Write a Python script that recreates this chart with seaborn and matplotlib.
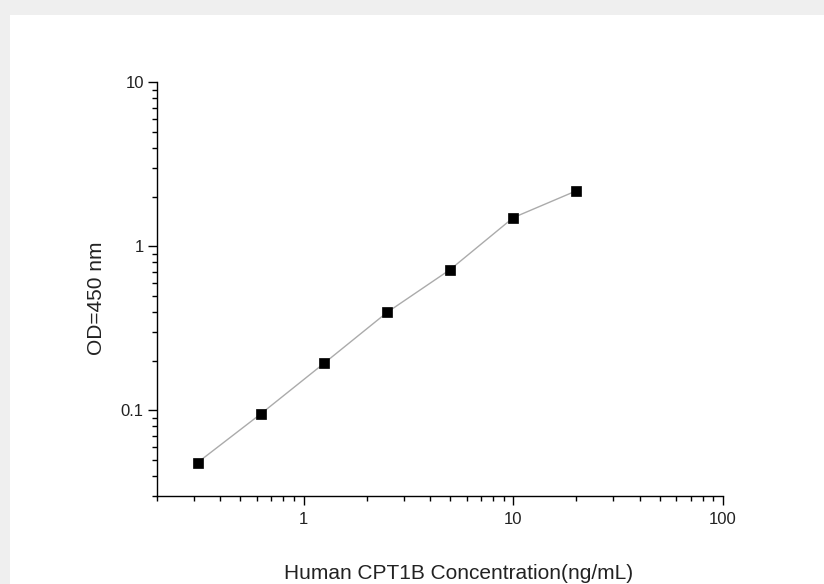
import matplotlib
matplotlib.use("Agg")
import matplotlib.pyplot as plt
from matplotlib.patches import Rectangle
from matplotlib.ticker import LogLocator, NullFormatter, FuncFormatter
import seaborn as sns
import pandas as pd

# Standard curve: concentration (ng/mL) vs optical density at 450 nm
concentration = [0.3125, 0.625, 1.25, 2.5, 5, 10, 20]
od450 = [0.048, 0.095, 0.193, 0.395, 0.721, 1.495, 2.18]

x_label = "Human CPT1B Concentration(ng/mL)"
y_label = "OD=450 nm"

sns.set_style("white")
plt.rcParams["font.family"] = ["Liberation Sans", "DejaVu Sans"]

df = pd.DataFrame({"conc": concentration, "od": od450})

fig = plt.figure(figsize=(8.24, 5.84), dpi=100)
fig.patch.set_facecolor("#efefef")
# white panel inside the light-grey frame
panel = Rectangle((10 / 824, 0), 1 - 10 / 824, 1 - 15 / 584,
                  transform=fig.transFigure, facecolor="white",
                  edgecolor="none", zorder=-10)
fig.add_artist(panel)

ax = fig.add_axes([157 / 824, 88 / 584, (723 - 157) / 824, (496 - 82.3) / 584])
ax.set_facecolor("none")
ax.set_zorder(5)

sns.lineplot(data=df, x="conc", y="od", ax=ax, color="#ababab", linewidth=1.0,
             marker="s", markersize=6.5, markerfacecolor="black",
             markeredgecolor="black", markeredgewidth=0.5)

ax.set_xscale("log")
ax.set_yscale("log")
ax.set_xlim(0.2, 100)
ax.set_ylim(0.03, 10)

for side in ("top", "right"):
    ax.spines[side].set_visible(False)
for side in ("left", "bottom"):
    ax.spines[side].set_color("black")
    ax.spines[side].set_linewidth(1.0)

fmt = FuncFormatter(lambda v, p: f"{v:g}")
ax.xaxis.set_major_locator(LogLocator(base=10))
ax.yaxis.set_major_locator(LogLocator(base=10))
ax.xaxis.set_minor_locator(LogLocator(base=10, subs=range(2, 10)))
ax.yaxis.set_minor_locator(LogLocator(base=10, subs=range(2, 10)))
ax.xaxis.set_major_formatter(fmt)
ax.yaxis.set_major_formatter(fmt)
ax.xaxis.set_minor_formatter(NullFormatter())
ax.yaxis.set_minor_formatter(NullFormatter())

ax.tick_params(which="major", direction="out", length=6.5, width=1.0,
               color="black", labelsize=12, labelcolor="#222222",
               bottom=True, left=True)
ax.tick_params(axis="x", which="major", pad=5)
ax.tick_params(axis="y", which="major", pad=3)
ax.tick_params(which="minor", direction="out", length=3.5, width=1.0,
               color="black", bottom=True, left=True)

ax.set_xlabel(x_label, fontsize=15, color="#222222", labelpad=27)
ax.set_ylabel(y_label, fontsize=15, color="#222222", labelpad=11)
ax.xaxis.label.set_x(0.532)
ax.yaxis.label.set_y(0.479)

fig.savefig("out.png", dpi=100, facecolor=fig.get_facecolor())
